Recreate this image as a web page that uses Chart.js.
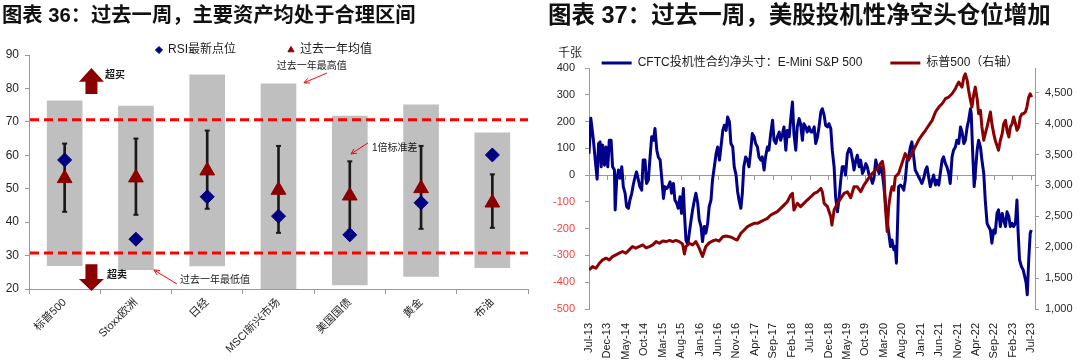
<!DOCTYPE html>
<html>
<head>
<meta charset="utf-8">
<script src="https://cdn.jsdelivr.net/npm/chart.js@4.4.0/dist/chart.umd.min.js"></script>
<style>
  html, body { margin: 0; padding: 0; background: #fff; }
  body { width: 1080px; height: 363px; position: relative; overflow: hidden;
         font-family: "Liberation Sans", "Noto Sans CJK SC", sans-serif; }
  .title { position: absolute; top: 2px; font-weight: bold; color: #111;
           white-space: nowrap; z-index: 2; line-height: 26px; }
  #t36 { left: 2px; font-size: 20.3px; }
  #t37 { left: 548px; font-size: 23.5px; }
  #rsiChart { position: absolute; left: 0; top: -8px; }
  #cftcChart { position: absolute; left: 540px; top: 29px; }
</style>
</head>
<body>
<div class="title" id="t36">图表 36：过去一周，主要资产均处于合理区间</div>
<div class="title" id="t37">图表 37：过去一周，美股投机性净空头仓位增加</div>
<canvas id="rsiChart" width="540" height="371"></canvas>
<canvas id="cftcChart" width="540" height="334"></canvas>
<script>
Chart.defaults.font.family = '"Liberation Sans", "Noto Sans CJK SC", sans-serif';
Chart.defaults.color = '#262626';
Chart.defaults.animation = false;

// ---- 图表36：RSI ----
const assets = ['标普500', 'Stoxx欧洲', '日经', 'MSCI新兴市场', '美国国债', '黄金', '布油'];
const yearLow = [26.9, 25.7, 26.8, 19.0, 21.1, 23.7, 26.3];   // 过去一年最低值
const yearHigh = [76.4, 74.8, 84.2, 81.5, 71.8, 75.2, 66.8];  // 过去一年最高值
const yearMean = [53.1, 53.3, 55.4, 49.6, 47.9, 50.1, 45.8];  // 过去一年均值
const sdLow = [43.1, 42.2, 44.0, 36.8, 37.6, 38.0, 38.3];     // 均值 - 1倍标准差
const sdHigh = [63.5, 65.0, 67.4, 62.8, 58.2, 62.8, 54.3];    // 均值 + 1倍标准差
const rsiLatest = [58.6, 34.9, 47.6, 41.8, 36.2, 45.8, 60.1]; // RSI最新点位
const rsiBands = [70.6, 30.8];                                // 超买 / 超卖线

// ---- 图表37：CFTC 净头寸 & 标普500 ----
const monthTicks = ['Jul-13', 'Dec-13', 'May-14', 'Oct-14', 'Mar-15', 'Aug-15', 'Jan-16', 'Jun-16',
  'Nov-16', 'Apr-17', 'Sep-17', 'Feb-18', 'Jul-18', 'Dec-18', 'May-19', 'Oct-19', 'Mar-20', 'Aug-20',
  'Jan-21', 'Jun-21', 'Nov-21', 'Apr-22', 'Sep-22', 'Feb-23', 'Jul-23'];
const spxTicks = [1000, 1500, 2000, 2500, 3000, 3500, 4000, 4500];

// 月份序号（从 Jul-13 起算）
const cftcMonth = [0, 0.5, 1.2, 1.7, 2.2, 2.6, 3.0, 3.3, 3.7, 4.2, 4.6, 5.1, 5.5, 6.0, 6.4, 6.9, 7.1, 7.5,
  8.0, 8.4, 8.9, 9.3, 9.8, 10.2, 10.7, 11.1, 11.6, 12.0, 12.5, 12.9, 13.4, 13.8, 14.3, 14.7, 15.2, 15.6,
  16.1, 16.5, 17.0, 17.5, 17.9, 18.4, 18.8, 19.3, 19.7, 20.2, 20.6, 21.1, 21.5, 22.0, 22.4, 22.9, 23.3,
  23.8, 24.2, 24.7, 25.1, 25.6, 25.9, 26.3, 26.8, 27.2, 27.7, 28.1, 28.6, 29.0, 29.5, 29.9, 30.4, 30.8,
  31.3, 31.7, 32.2, 32.6, 33.1, 33.5, 34.0, 34.5, 34.9, 35.4, 35.8, 36.3, 36.7, 37.2, 37.6, 38.1, 38.5,
  39.0, 39.4, 39.9, 40.3, 40.7, 41.2, 41.6, 42.0, 42.5, 43.0, 43.4, 43.9, 44.3, 44.8, 45.2, 45.7, 46.1,
  46.6, 47.0, 47.5, 47.9, 48.4, 48.8, 49.3, 49.8, 50.2, 50.7, 51.1, 51.6, 52.0, 52.5, 52.9, 53.4, 53.8,
  54.3, 54.7, 55.2, 55.6, 56.1, 56.5, 57.0, 57.4, 57.9, 58.3, 58.8, 59.2, 59.7, 60.2, 60.6, 61.1, 61.5,
  62.0, 62.4, 62.9, 63.3, 63.8, 64.2, 64.7, 65.1, 65.6, 66.0, 66.5, 66.9, 67.4, 67.8, 68.3, 68.7, 69.2,
  69.6, 70.1, 70.6, 71.0, 71.5, 71.9, 72.4, 72.8, 73.3, 73.7, 74.2, 74.6, 75.1, 75.5, 76.0, 76.4, 76.9,
  77.3, 77.8, 78.2, 78.7, 79.1, 79.5, 80.0, 80.6, 81.1, 81.8, 82.2, 82.7, 83.1, 83.4, 83.8, 84.0, 84.5,
  84.9, 85.4, 85.8, 86.3, 86.7, 87.2, 87.6, 88.1, 88.5, 89.0, 89.4, 89.9, 90.3, 90.8, 91.3, 91.7, 92.2,
  92.6, 93.1, 93.5, 94.0, 94.4, 94.9, 95.3, 95.8, 96.2, 96.7, 97.1, 97.6, 98.0, 98.5, 98.9, 99.4, 99.8,
  100.3, 100.8, 101.2, 101.7, 102.1, 102.6, 103.0, 103.5, 103.7, 104.1, 104.5, 104.8, 105.3, 105.7,
  106.2, 106.6, 107.1, 107.5, 108.0, 108.4, 108.9, 109.3, 109.8, 110.2, 110.7, 111.1, 111.6, 112.1,
  112.5, 113.0, 113.4, 113.9, 114.3, 114.8, 115.2, 115.7, 116.1, 116.4, 116.8, 117.3, 117.8, 118.2,
  118.6, 118.9, 119.3, 119.7, 120.0];
const cftcNet = [80, 212, 130, 56, -15, 118, 124, 31, 112, 37, 105, 31, 130, 130, 31, 19, -130, -19,
  19, -12, 31, -43, -68, -118, -124, -93, -68, -37, -6, 12, -19, -43, -56, 56, 56, -31,
  -19, 56, 143, 130, 174, 93, 68, 56, -6, -87, -43, -50, -43, -25, -68, -31, -93,
  -105, -124, -81, -143, -50, -143, -242, -260, -217, -167, -130, -93, -68, -105, -167, -192, -248,
  -192, -217, -180, -118, -93, -19, 31, 81, 105, 56, 105, 167, 186, 167, 217, 199, 118,
  105, 31, 0, -60, -93, -124, -68, 31, 68, 56, 31, 93, 155, 143, 118, 105, 68,
  56, 68, 19, 68, 105, 93, 155, 205, 130, 118, 143, 161, 130, 155, 180, 93, 167,
  143, 205, 273, 155, 93, 180, 211, 192, 130, 192, 180, 161, 180, 161, 161, 180, 118,
  143, 180, 236, 248, 223, 186, 180, 192, 174, 93, 31, -81, -137, -93, -19, 31, 31,
  0, 81, 99, 93, 56, 19, 56, 74, 31, 56, 6, 19, 43, 31, 0, -6, -31,
  -12, 56, 31, 6, 31, 19, -43, -130, -192, -267, -242, -279, -267, -329, -143, -43, -37,
  -43, -56, -19, 56, 68, 105, 124, 68, 19, 6, -6, -19, -31, -12, 19, 31, -12,
  -43, -19, 0, -37, -19, -37, 6, 56, 68, 43, 31, 6, -31, 68, 93, 105, 130,
  118, 180, 161, 118, 130, 180, 205, 248, 230, 81, -43, 6, 93, 130,
  105, 56, 6, -93, -180, -192, -205, -254, -205, -217, -143, -130, -192, -143,
  -167, -192, -137, -155, -192, -180, -192, -180, -93, -205, -316, -341, -354, -378,
  -403, -447, -316, -217, -205];

const spxMonth = [0, 1.0, 1.9, 2.8, 3.7, 4.6, 5.5, 6.4, 7.3, 8.2, 9.1, 10.0, 10.9, 11.8, 12.7, 13.6,
  14.6, 15.5, 16.4, 17.3, 18.2, 19.1, 20.0, 20.9, 21.9, 22.7, 23.6, 24.5, 25.4, 25.9, 26.3, 27.2, 28.1,
  29.0, 29.9, 30.8, 31.7, 32.6, 33.5, 34.4, 35.3, 36.3, 37.2, 38.1, 39.0, 39.9, 40.2, 41.2, 42.1, 43.0,
  43.9, 44.8, 45.7, 46.6, 47.5, 48.4, 49.3, 50.2, 51.1, 52.0, 52.9, 53.8, 54.7, 55.2, 55.6, 56.5, 57.4,
  58.3, 59.2, 60.2, 61.1, 62.0, 62.9, 63.3, 63.8, 64.7, 65.6, 65.9, 66.5, 67.4, 68.3, 69.2, 70.1, 71.0,
  71.9, 72.8, 73.7, 74.6, 75.5, 76.4, 77.3, 78.2, 79.1, 79.6, 80.0, 80.4, 80.9, 81.3, 81.8, 82.2, 82.7,
  83.1, 84.0, 84.9, 85.8, 86.7, 87.6, 88.5, 89.4, 90.3, 91.3, 92.2, 93.1, 94.0, 94.9, 95.8, 96.7, 97.6,
  98.5, 99.4, 99.8, 100.3, 101.2, 101.7, 102.1, 102.6, 103.0, 103.5, 103.9, 104.4, 104.8, 105.3, 105.7,
  106.2, 106.6, 107.1, 107.5, 108.0, 108.4, 108.9, 109.3, 109.8, 110.2, 111.1, 111.6, 112.1, 112.5,
  113.0, 113.4, 113.9, 114.3, 114.8, 115.2, 115.7, 116.1, 116.6, 117.0, 117.5, 117.9, 118.4, 118.8,
  119.3, 119.7, 120.1];
const spxClose = [1634, 1687, 1660, 1741, 1795, 1822, 1795, 1849, 1876, 1903, 1930, 1903, 1957, 2011, 1984, 2011,
  2037, 1990, 2011, 2037, 2091, 2064, 2100, 2091, 2110, 2091, 2110, 2091, 2050, 1890, 2011, 2064, 2037,
  2091, 1984, 1849, 2011, 2070, 2100, 2120, 2100, 2170, 2180, 2170, 2150, 2120, 2118, 2225, 2279, 2333,
  2360, 2386, 2386, 2414, 2440, 2467, 2521, 2548, 2575, 2629, 2682, 2736, 2843, 2871, 2602, 2710, 2656,
  2710, 2763, 2817, 2871, 2897, 2951, 2897, 2710, 2656, 2494, 2360, 2602, 2710, 2790, 2871, 2897, 2800,
  2978, 2978, 2897, 3005, 3086, 3166, 3220, 3274, 3354, 3390, 3247, 2656, 2253, 2656, 2871, 2978, 2924,
  3140, 3194, 3355, 3515, 3408, 3515, 3623, 3730, 3812, 3892, 3973, 4053, 4188, 4268, 4322, 4403, 4430,
  4483, 4564, 4618, 4671, 4591, 4752, 4806, 4698, 4537, 4376, 4268, 4483, 4591, 4403, 4161,
  4215, 3946, 3730, 3838, 3946, 4053, 4188, 4000, 3838, 3730, 3569, 3730, 3838, 4000,
  4053, 3892, 3784, 3946, 4000, 4107, 4000, 3892, 3946, 4107, 4161, 4161, 4188, 4268,
  4430, 4483, 4430];

// ---- 图表36 注释：超买/超卖线、箭头、说明文字 ----
function blockArrow(ctx, cx, yTail, yBase, yTip) {
  const head = 12.5, shaft = 6;
  ctx.beginPath();
  ctx.moveTo(cx - shaft, yTail);
  ctx.lineTo(cx - shaft, yBase);
  ctx.lineTo(cx - head, yBase);
  ctx.lineTo(cx, yTip);
  ctx.lineTo(cx + head, yBase);
  ctx.lineTo(cx + shaft, yBase);
  ctx.lineTo(cx + shaft, yTail);
  ctx.closePath();
  ctx.fill();
}

function thinArrow(ctx, x1, y1, x2, y2) {
  const a = Math.atan2(y2 - y1, x2 - x1), h = 6;
  ctx.beginPath();
  ctx.moveTo(x1, y1);
  ctx.lineTo(x2, y2);
  ctx.moveTo(x2 - h * Math.cos(a - 0.45), y2 - h * Math.sin(a - 0.45));
  ctx.lineTo(x2, y2);
  ctx.lineTo(x2 - h * Math.cos(a + 0.45), y2 - h * Math.sin(a + 0.45));
  ctx.stroke();
}

const rsiNotes = {
  id: 'rsiNotes',
  afterDatasetsDraw(chart) {
    const { ctx, chartArea: a, scales: { y } } = chart;
    ctx.save();
    ctx.strokeStyle = '#FF0000';
    ctx.lineWidth = 3;
    ctx.setLineDash([9, 5]);
    rsiBands.forEach(v => {
      const yy = y.getPixelForValue(v);
      ctx.beginPath();
      ctx.moveTo(a.left + 1, yy);
      ctx.lineTo(a.right, yy);
      ctx.stroke();
    });
    ctx.restore();
  },
  afterDraw(chart) {
    const { ctx, scales: { x, y } } = chart;
    const X = i => x.getPixelForValue(i), Y = v => y.getPixelForValue(v);
    ctx.save();
    // 超买 / 超卖 箭头
    ctx.fillStyle = '#8B0000';
    blockArrow(ctx, X(0.376), Y(78.3), Y(82.0), Y(86.1));
    blockArrow(ctx, X(0.376), Y(27.4), Y(23.0), Y(19.4));
    ctx.textBaseline = 'middle';
    ctx.textAlign = 'left';
    ctx.fillStyle = '#1a1a1a';
    ctx.font = 'bold 10px "Liberation Sans", "Noto Sans CJK SC"';
    ctx.fillText('超买', X(0.567), Y(84.0));
    ctx.fillText('超卖', X(0.593), Y(24.2));
    ctx.font = '10px "Liberation Sans", "Noto Sans CJK SC"';
    ctx.fillText('过去一年最低值', X(1.617), Y(22.7));
    ctx.fillText('过去一年最高值', X(2.977), Y(86.5));
    ctx.fillText('1倍标准差', X(4.31), Y(62.2));
    // 细箭头
    ctx.strokeStyle = '#FF0000';
    ctx.lineWidth = 1;
    thinArrow(ctx, X(1.575), Y(21.5), X(1.253), Y(25.7));
    thinArrow(ctx, X(3.68), Y(84.6), X(3.357), Y(81.7));
    thinArrow(ctx, X(4.255), Y(63.7), X(4.017), Y(60.4));
    ctx.restore();
  }
};

new Chart(document.getElementById('rsiChart'), {
  type: 'bar',
  data: {
    labels: assets,
    datasets: [
      {
        type: 'line', label: 'RSI最新点位', data: rsiLatest, showLine: false,
        pointStyle: 'rectRot', pointRadius: 7, pointBorderWidth: 1,
        backgroundColor: '#000080', borderColor: '#000080', order: 0
      },
      {
        type: 'line', label: '过去一年均值', data: yearMean, showLine: false,
        pointStyle: 'triangle', pointRadius: 8.5, pointBorderWidth: 1,
        backgroundColor: '#8B0000', borderColor: '#8B0000', order: 1
      },
      {
        type: 'line', label: 'sdHigh', data: sdHigh, showLine: false,
        pointStyle: 'line', pointRadius: 2.5, pointBorderWidth: 2,
        borderColor: '#1a1a1a', order: 2
      },
      {
        type: 'line', label: 'sdLow', data: sdLow, showLine: false,
        pointStyle: 'line', pointRadius: 2.5, pointBorderWidth: 2,
        borderColor: '#1a1a1a', order: 2
      },
      {
        label: '1倍标准差', data: sdLow.map((v, i) => [v, sdHigh[i]]),
        backgroundColor: '#1a1a1a', barThickness: 2, grouped: false, order: 2
      },
      {
        label: '过去一年区间', data: yearLow.map((v, i) => [v, yearHigh[i]]),
        backgroundColor: '#BFBFBF', barPercentage: 0.5, categoryPercentage: 1,
        grouped: false, order: 3
      }
    ]
  },
  options: {
    responsive: false,
    devicePixelRatio: 1,
    events: [],
    layout: { padding: { right: 12 } },
    plugins: {
      tooltip: { enabled: false },
      legend: {
        maxHeight: 63,
        labels: {
          usePointStyle: true, boxWidth: 6, boxHeight: 5, padding: 52,
          font: { size: 12 }, color: '#1a1a1a',
          filter: item => item.text === 'RSI最新点位' || item.text === '过去一年均值'
        }
      }
    },
    scales: {
      x: {
        grid: { offset: true, drawOnChartArea: false, tickLength: 5, color: '#999' },
        border: { color: '#999' },
        ticks: { font: { size: 11 }, minRotation: 45, maxRotation: 45, padding: 2, autoSkip: false },
        afterFit: s => { s.height = 74; }
      },
      y: {
        min: 20, max: 90,
        ticks: { stepSize: 10, font: { size: 12 }, padding: 6 },
        grid: { drawOnChartArea: false, tickLength: 4, color: '#999' },
        border: { color: '#999' },
        afterFit: s => { s.width = 29; }
      }
    }
  },
  plugins: [rsiNotes]
});

// ---- 图表37 ----
const unitLabel = {
  id: 'unitLabel',
  afterDraw(chart) {
    const { ctx, scales: { y } } = chart;
    ctx.save();
    ctx.font = '12px "Liberation Sans", "Noto Sans CJK SC"';
    ctx.fillStyle = '#262626';
    ctx.textAlign = 'right';
    ctx.textBaseline = 'middle';
    ctx.fillText('千张', y.right - 7, y.getPixelForValue(400) - 14);
    ctx.restore();
  }
};

// 每 5 个月一个刻度
const monthTickValues = s => { s.ticks = monthTicks.map((_, i) => ({ value: i * 5 })); };

new Chart(document.getElementById('cftcChart'), {
  type: 'line',
  data: {
    datasets: [
      {
        label: 'CFTC投机性合约净头寸：E-Mini S&P 500',
        data: cftcMonth.map((m, i) => ({ x: m, y: cftcNet[i] })),
        borderColor: '#00008B', backgroundColor: '#00008B', borderWidth: 3,
        pointRadius: 0, pointBorderWidth: 3, borderJoinStyle: 'round',
        xAxisID: 'x', yAxisID: 'y', order: 1
      },
      {
        label: '标普500（右轴）',
        data: spxMonth.map((m, i) => ({ x: m, y: spxClose[i] })),
        borderColor: '#8B0000', backgroundColor: '#8B0000', borderWidth: 3,
        pointRadius: 0, pointBorderWidth: 3, borderJoinStyle: 'round',
        xAxisID: 'x', yAxisID: 'y1', order: 0
      }
    ]
  },
  options: {
    responsive: false,
    devicePixelRatio: 1,
    events: [],
    plugins: {
      tooltip: { enabled: false },
      legend: {
        maxHeight: 39,
        labels: {
          usePointStyle: true, pointStyle: 'line', pointStyleWidth: 30, boxHeight: 3,
          padding: 28, font: { size: 12 }, color: '#1a1a1a',
          sort: (a, b) => a.datasetIndex - b.datasetIndex
        }
      }
    },
    scales: {
      x: {
        type: 'linear', min: 0, max: 121,
        grid: { display: false },
        border: { display: false },
        afterBuildTicks: monthTickValues,
        ticks: {
          autoSkip: false, minRotation: 90, maxRotation: 90,
          font: { size: 11 }, padding: 6, color: '#1a1a1a',
          callback: (v, i) => monthTicks[i]
        },
        afterFit: s => { s.height = 54; }
      },
      x2: {
        type: 'linear', axis: 'x', position: { y: 0 }, min: 0, max: 121,
        afterBuildTicks: monthTickValues,
        ticks: { display: false },
        grid: { drawOnChartArea: false, tickLength: 4, color: '#999' },
        border: { color: '#999' }
      },
      y: {
        position: 'left', min: -500, max: 400,
        ticks: {
          stepSize: 100, font: { size: 11 }, padding: 10,
          color: c => (c.tick && c.tick.value < 0 ? '#FF3B3B' : '#262626')
        },
        grid: { drawOnChartArea: false, tickLength: 4, color: '#999' },
        border: { color: '#999' },
        afterFit: s => { s.width = 49; }
      },
      y1: {
        position: 'right', min: 1000, max: 4900,
        afterBuildTicks: s => { s.ticks = spxTicks.map(v => ({ value: v })); },
        ticks: {
          autoSkip: false, font: { size: 11 }, padding: 6, color: '#262626',
          callback: (v, i) => spxTicks[i].toLocaleString('en-US')
        },
        grid: { drawOnChartArea: false, tickLength: 4, color: '#999' },
        border: { color: '#999' },
        afterFit: s => { s.width = 45; }
      }
    }
  },
  plugins: [unitLabel]
});
</script>
</body>
</html>
